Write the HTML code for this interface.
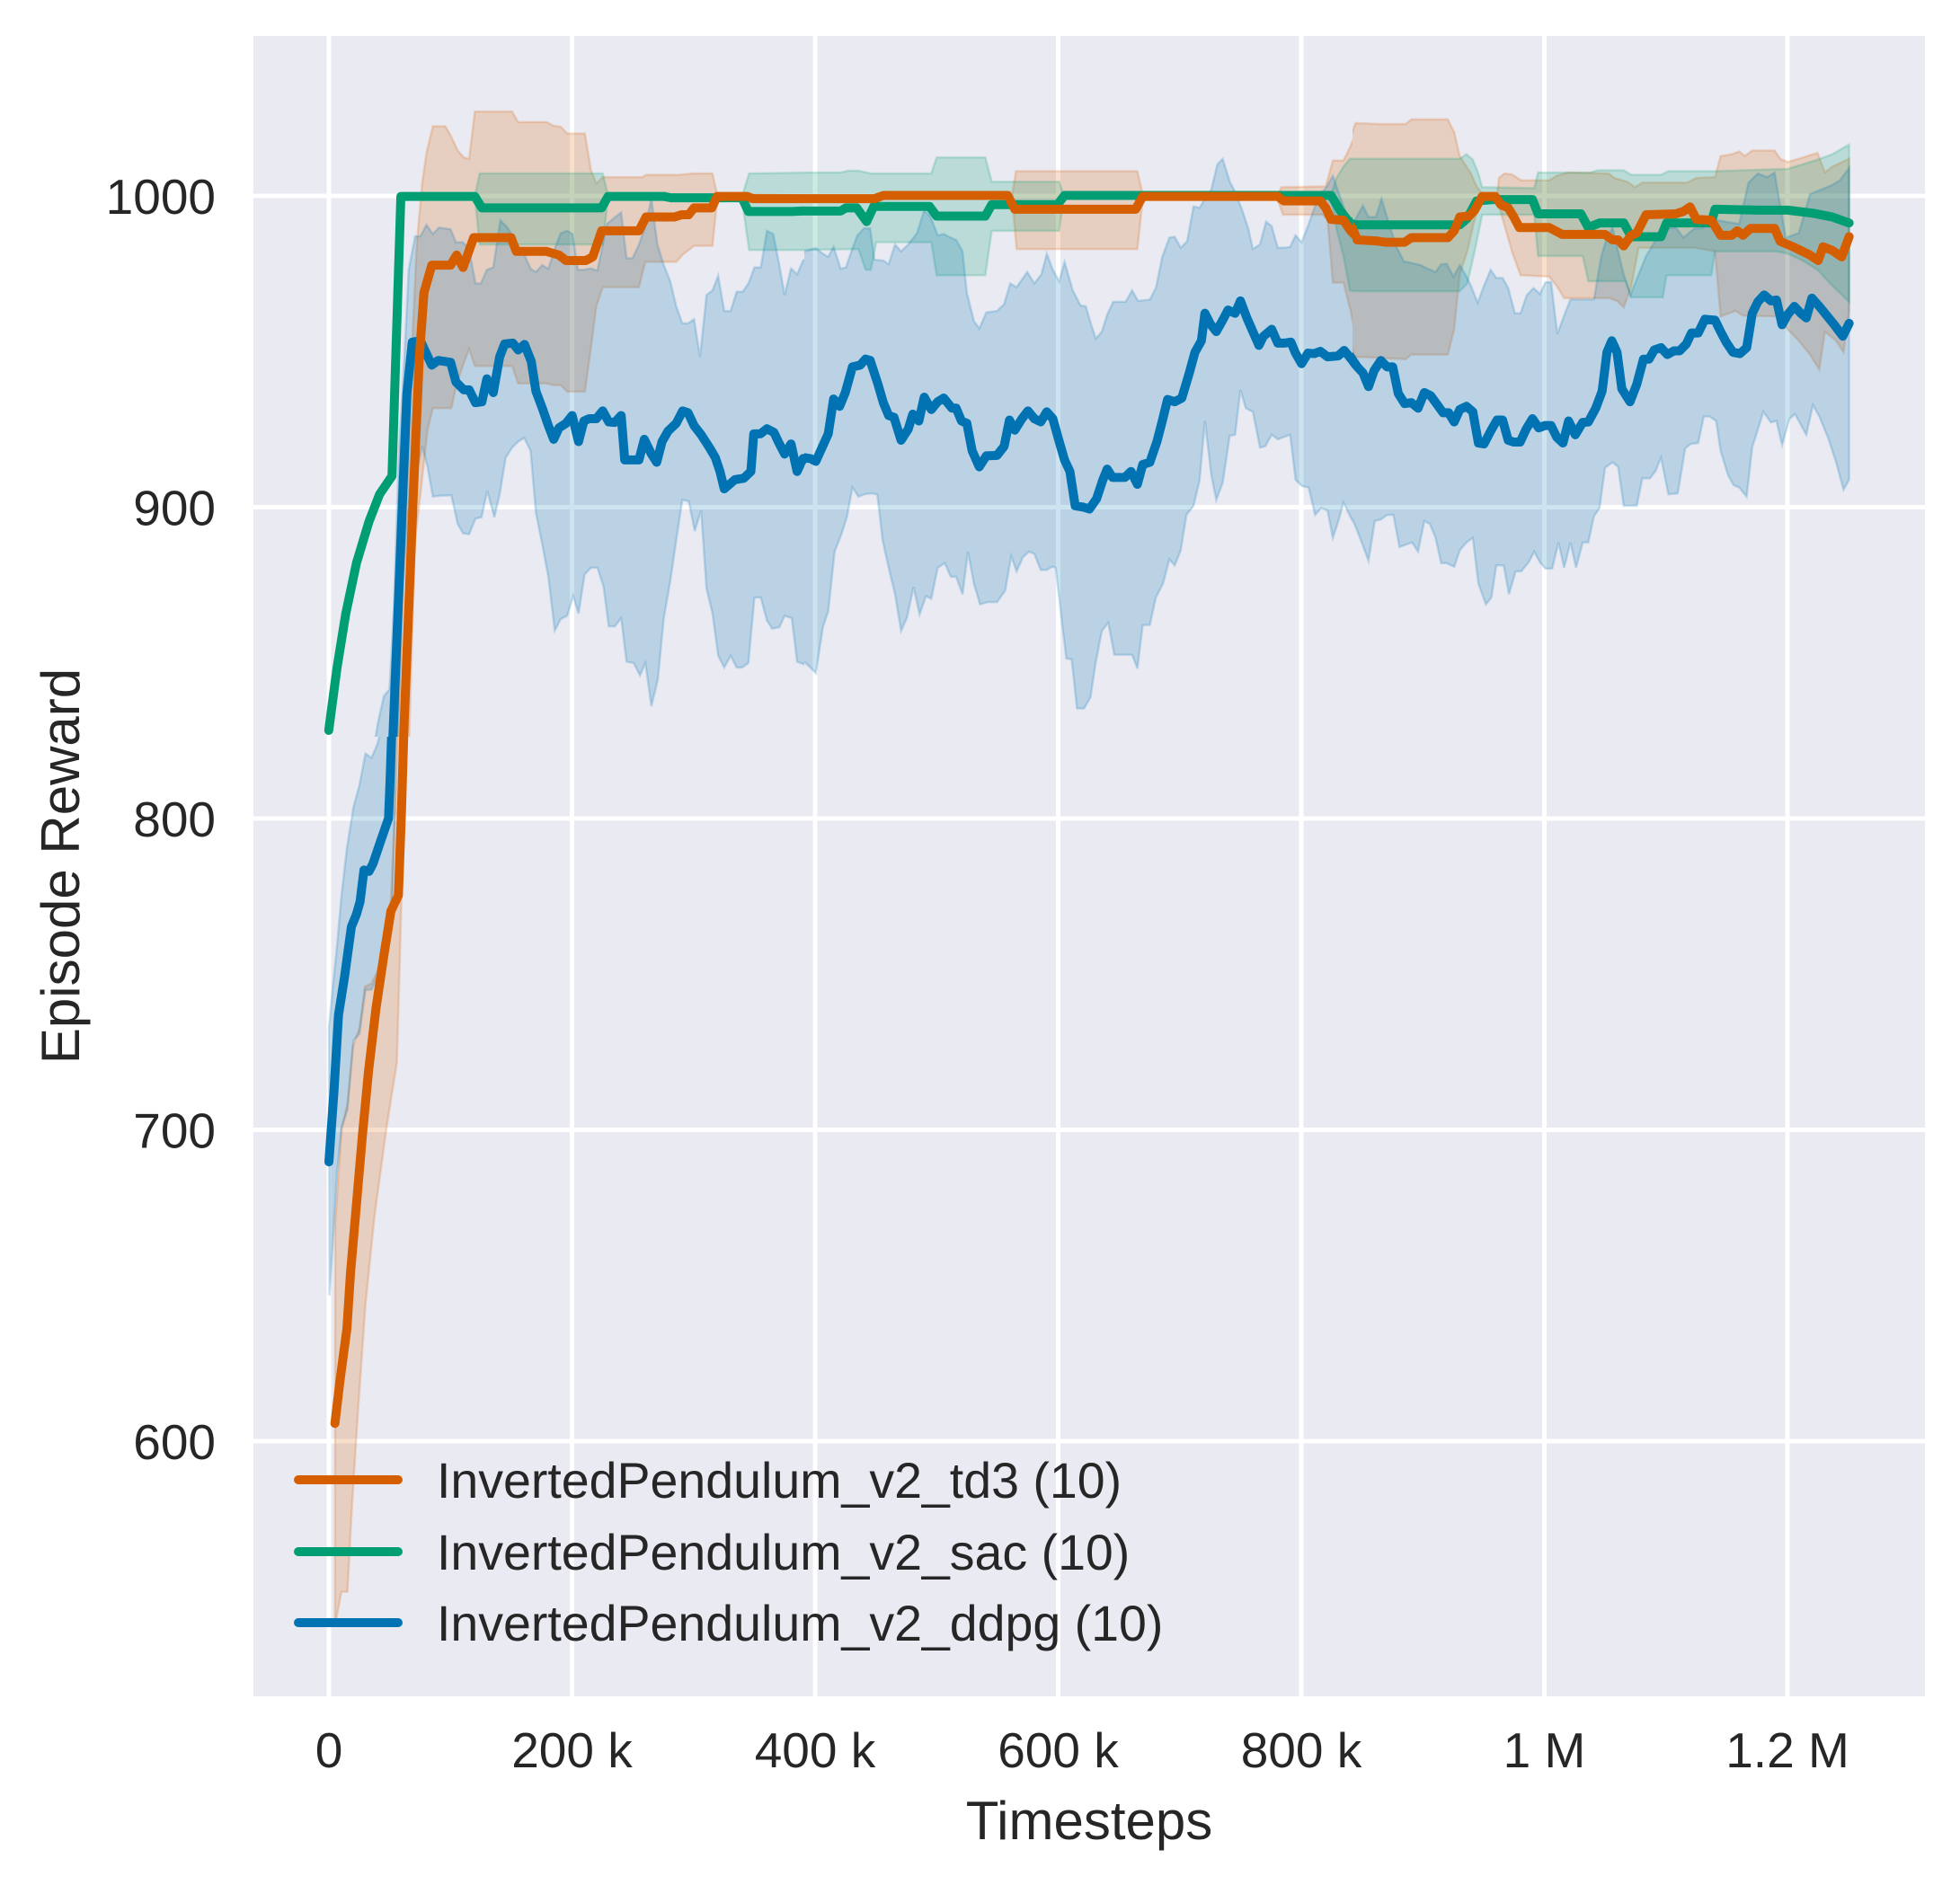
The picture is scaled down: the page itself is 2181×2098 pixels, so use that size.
<!DOCTYPE html>
<html><head><meta charset="utf-8"><style>
html,body{margin:0;padding:0;background:#fff}
svg{display:block}
text{font-family:"Liberation Sans",Arial,sans-serif;fill:#262626}
.bo{fill:#d55e00;fill-opacity:.2;stroke:#d55e00;stroke-opacity:.2;stroke-width:2.5;vector-effect:non-scaling-stroke}
.bg{fill:#029e73;fill-opacity:.2;stroke:#029e73;stroke-opacity:.2;stroke-width:2.5;vector-effect:non-scaling-stroke}
.bb{fill:#0173b2;fill-opacity:.2;stroke:#0173b2;stroke-opacity:.2;stroke-width:2.5;vector-effect:non-scaling-stroke}
.lo,.lg,.lb{fill:none;stroke-width:10;stroke-linejoin:round;stroke-linecap:round;vector-effect:non-scaling-stroke}
.lo{stroke:#d55e00}.lg{stroke:#029e73}.lb{stroke:#0173b2}
</style></head><body>
<svg xmlns="http://www.w3.org/2000/svg" width="2181" height="2098" viewBox="0 0 2181 2098">
<defs>
<clipPath id="cA" clipPathUnits="userSpaceOnUse"><rect x="282" y="40" width="613" height="780"/></clipPath>
<clipPath id="cB" clipPathUnits="userSpaceOnUse"><rect x="895" y="40" width="610" height="1848"/></clipPath>
<clipPath id="cC" clipPathUnits="userSpaceOnUse"><rect x="1505" y="40" width="637" height="1848"/></clipPath>
<clipPath id="cD" clipPathUnits="userSpaceOnUse"><rect x="282" y="820" width="398" height="1068"/></clipPath>
</defs>
<rect x="0" y="0" width="2181" height="2098" fill="#fff"/>
<rect x="282" y="40" width="1860" height="1848" fill="#eaeaf2"/>
<g stroke="#fff" stroke-width="5">
<line x1="366" y1="40" x2="366" y2="1888"/>
<line x1="636.5" y1="40" x2="636.5" y2="1888"/>
<line x1="907" y1="40" x2="907" y2="1888"/>
<line x1="1177.5" y1="40" x2="1177.5" y2="1888"/>
<line x1="1448" y1="40" x2="1448" y2="1888"/>
<line x1="1718.5" y1="40" x2="1718.5" y2="1888"/>
<line x1="1989" y1="40" x2="1989" y2="1888"/>
<line x1="282" y1="218" x2="2142" y2="218"/>
<line x1="282" y1="564.5" x2="2142" y2="564.5"/>
<line x1="282" y1="911" x2="2142" y2="911"/>
<line x1="282" y1="1257.5" x2="2142" y2="1257.5"/>
<line x1="282" y1="1604" x2="2142" y2="1604"/>
</g>

<!-- Region A -->
<g clip-path="url(#cA)"><g transform="translate(280,40) scale(0.39541,0.5102)">
<polygon class="bo" vector-effect="non-scaling-stroke" points="409,1568 430,1100 450,700 465,450 480,320 492,255 510,197 545,197 562,220 580,250 597,265 612,268 628,165 733,165 750,188 830,188 850,196 870,198 888,213 938,213 955,293 970,322 988,308 1100,308 1110,303 1200,303 1245,300 1297,300 1310,345 1580,348 1580,358 1310,358 1297,458 1245,458 1212,478 1195,493 1108,493 1090,548 988,548 970,590 955,680 938,776 888,776 870,762 850,762 830,758 750,758 733,720 628,720 612,683 595,718 577,760 562,812 510,812 495,860 475,1000 460,1100 442,1568"/>
<polygon class="bg" vector-effect="non-scaling-stroke" points="628,350 642,300 988,300 1003,348 1003,352 988,455 642,455 628,352"/>
<polygon class="bg" vector-effect="non-scaling-stroke" points="1380,350 1400,300 1580,298 1580,467 1400,467 1380,358"/>
<polygon class="bb" vector-effect="non-scaling-stroke" points="340,1568 355,1500 372,1440 388,1425 400,1250 415,900 430,700 442,510 460,437 475,437 492,412 510,432 527,418 560,422 575,450 595,450 612,465 630,540 645,540 662,510 680,505 700,402 720,418 737,440 752,475 768,478 785,508 800,515 818,500 835,508 855,460 870,430 888,425 903,432 918,510 937,510 955,507 973,512 1000,410 1020,397 1040,385 1055,485 1072,485 1090,455 1108,415 1125,355 1142,455 1160,500 1178,535 1195,590 1212,627 1228,627 1245,618 1262,700 1280,565 1297,555 1313,523 1330,600 1348,600 1365,558 1382,558 1398,540 1415,505 1433,505 1450,425 1468,432 1485,500 1500,565 1518,507 1535,520 1552,490 1580,478 1580,1378 1552,1370 1535,1365 1520,1270 1500,1265 1485,1290 1465,1293 1450,1275 1433,1225 1415,1225 1398,1368 1380,1378 1365,1378 1348,1352 1330,1378 1313,1352 1297,1260 1280,1205 1265,1035 1247,1080 1230,1015 1212,1012 1195,1100 1178,1190 1160,1270 1143,1405 1125,1462 1108,1368 1093,1395 1075,1368 1055,1365 1040,1270 1022,1288 1005,1288 990,1200 973,1160 955,1160 937,1175 920,1260 905,1222 888,1265 870,1272 853,1297 835,1180 818,1110 800,1040 785,905 767,877 750,885 733,898 715,920 698,1000 683,1050 663,992 647,1050 630,1053 612,1087 595,1085 580,1065 562,1002 530,1003 510,1005 495,940 480,895 465,950 445,1000 425,1200 410,1568"/>
<polyline class="lb" vector-effect="non-scaling-stroke" points="395,1580 420,1100 437,780 452,668 475,665 490,690 507,718 525,708 560,712 575,755 597,772 612,772 630,800 648,798 662,748 680,778 698,700 712,672 735,670 750,685 768,673 787,710 800,775 818,812 835,850 850,880 865,855 885,845 902,828 920,885 935,840 950,835 970,835 988,818 1005,842 1022,843 1040,828 1050,925 1090,925 1105,880 1125,912 1140,930 1155,885 1172,862 1195,845 1213,818 1228,822 1245,850 1265,870 1290,900 1305,920 1318,950 1330,988 1360,968 1385,965 1405,950 1413,868 1432,868 1450,857 1470,865 1482,885 1500,912 1518,890 1535,950 1552,922 1580,920"/>
<polyline class="lg" vector-effect="non-scaling-stroke" points="217,1515 240,1380 265,1260 295,1150 330,1060 360,1000 395,960 420,350 628,350 648,375 985,375 1003,350 1160,350 1180,353 1380,353 1398,383 1520,383 1580,381"/>
<polyline class="lo" vector-effect="non-scaling-stroke" points="425,1580 455,1000 472,700 485,560 507,500 560,500 577,478 595,505 625,440 730,440 745,470 830,470 865,478 885,490 940,490 960,482 985,425 1090,425 1110,395 1190,395 1210,390 1230,390 1245,375 1295,375 1310,350 1395,350 1410,355 1580,355"/>
</g></g>

<!-- Region D (early rise) -->
<g clip-path="url(#cD)"><g transform="translate(280,800) scale(0.33333,0.70151)">
<polygon class="bo" vector-effect="non-scaling-stroke" points="278,1430 279,800 300,650 320,610 338,520 360,490 378,425 400,420 420,400 448,360 465,285 480,120 488,-10 520,-10 505,200 495,380 485,545 450,650 410,790 380,930 355,1100 335,1250 320,1385 300,1385 282,1430"/>
<polygon class="bb" vector-effect="non-scaling-stroke" points="258,490 270,430 285,360 300,280 318,205 340,140 360,105 380,55 400,62 420,40 440,0 440,-10 483,-10 478,150 470,290 455,330 430,400 400,430 380,430 360,500 340,510 320,620 300,650 285,720 270,840 260,915"/>
<polyline class="lb" vector-effect="non-scaling-stroke" points="258,703 275,590 290,470 310,410 333,330 350,310 362,290 375,240 392,242 405,230 430,195 457,158 462,100 470,-10"/>
<polyline class="lo" vector-effect="non-scaling-stroke" points="278,1118 295,1050 318,968 330,880 350,770 370,660 390,560 415,460 440,380 465,305 490,280 500,150 510,-10"/>
</g></g>

<!-- Region B -->
<g clip-path="url(#cB)"><g transform="translate(890,40) scale(0.39541,0.5102)">
<polygon class="bo" vector-effect="non-scaling-stroke" points="598,345 608,295 950,295 965,345 965,358 950,465 610,465 598,360"/>
<polygon class="bo" vector-effect="non-scaling-stroke" points="1345,348 1355,330 1480,328 1500,272 1530,272 1550,240 1575,190 1575,700 1550,600 1530,538 1500,538 1485,400 1470,390 1360,390 1345,358"/>
<polygon class="bg" vector-effect="non-scaling-stroke" points="0,298 115,298 135,294 165,294 200,300 370,300 385,265 522,265 540,318 730,318 742,346 742,352 730,425 540,425 522,522 385,522 370,450 215,450 200,510 185,510 165,465 -5,467 -5,298"/>
<polygon class="bg" vector-effect="non-scaling-stroke" points="1495,346 1510,310 1530,285 1548,268 1575,265 1575,560 1548,555 1530,480 1510,420 1495,352"/>
<polygon class="bb" vector-effect="non-scaling-stroke" points="-5,480 12,470 45,463 65,475 80,482 95,460 115,508 130,505 145,470 162,435 180,420 198,420 210,488 235,490 250,498 268,455 285,470 305,455 330,430 350,380 368,395 388,435 405,432 425,440 440,445 458,470 470,560 490,622 505,638 525,603 555,600 575,585 592,540 610,548 640,515 660,540 680,520 695,475 712,510 730,535 745,493 768,555 790,588 805,590 820,630 833,660 850,645 865,608 882,580 917,580 935,555 952,578 985,575 1002,550 1020,482 1040,440 1055,438 1072,462 1090,448 1108,372 1125,375 1140,355 1158,335 1175,280 1190,268 1210,318 1225,340 1245,380 1262,420 1275,465 1295,455 1312,405 1328,415 1345,462 1365,462 1380,460 1395,435 1412,450 1430,415 1448,375 1465,345 1482,330 1500,305 1520,350 1548,410 1575,450 1575,1085 1550,1050 1530,1018 1515,1060 1500,1095 1485,1035 1467,1030 1450,1045 1432,985 1413,982 1395,968 1380,870 1345,880 1328,870 1310,895 1295,898 1275,820 1255,812 1240,772 1225,870 1210,872 1190,975 1172,1012 1158,958 1140,840 1125,970 1108,1025 1088,1045 1072,1122 1055,1155 1040,1142 1022,1195 1002,1225 985,1285 965,1285 950,1380 935,1350 885,1350 868,1280 850,1298 832,1370 818,1443 800,1467 780,1467 765,1360 750,1358 735,1262 720,1160 710,1158 695,1165 678,1165 660,1130 645,1125 628,1137 610,1168 595,1135 578,1210 555,1235 530,1235 507,1240 490,1195 473,1125 458,1218 440,1180 425,1180 408,1150 388,1160 370,1228 355,1222 337,1262 320,1202 302,1268 285,1298 268,1218 250,1160 233,1100 218,1000 200,998 182,1000 165,1005 148,985 133,1048 118,1085 98,1125 80,1255 65,1290 45,1390 30,1378 12,1365 -5,1372"/>
<polyline class="lb" vector-effect="non-scaling-stroke" points="-10,948 12,920 30,922 45,928 80,868 95,792 112,808 128,778 148,722 170,718 185,705 198,708 220,760 235,800 250,828 265,832 285,882 305,858 318,825 335,840 350,788 370,815 388,798 405,790 428,812 440,812 455,840 470,845 485,905 505,940 525,916 555,915 575,895 590,838 605,860 625,835 642,818 660,835 678,842 695,820 712,835 730,885 745,925 760,950 775,1025 798,1028 815,1032 835,1010 852,970 865,945 880,963 915,963 932,950 950,978 965,935 985,930 1005,885 1020,840 1035,793 1055,798 1075,790 1095,738 1112,690 1130,665 1140,605 1155,628 1172,645 1190,620 1205,598 1225,605 1240,578 1258,615 1275,645 1292,675 1305,655 1328,640 1345,670 1365,670 1382,668 1395,692 1412,715 1430,692 1448,693 1465,688 1485,700 1515,698 1532,686 1552,705 1580,735"/>
<polyline class="lg" vector-effect="non-scaling-stroke" points="-10,382 115,382 130,375 160,375 188,405 208,372 365,372 385,393 522,393 540,368 725,368 745,348 1495,348 1520,380 1545,405 1580,410"/>
<polyline class="lo" vector-effect="non-scaling-stroke" points="-10,355 210,355 235,348 585,348 605,378 945,378 965,350 1345,350 1362,360 1465,360 1480,375 1495,400 1530,402 1550,425 1580,448"/>
</g></g>

<!-- Region C -->
<g clip-path="url(#cC)"><g transform="translate(1500,40) scale(0.41459,0.5102)">
<polygon class="bo" vector-effect="non-scaling-stroke" points="-5,245 20,190 80,192 155,192 170,182 268,182 285,210 300,262 330,300 345,328 360,343 400,345 405,310 420,300 440,302 465,315 540,315 560,305 590,298 700,300 715,310 750,318 770,330 790,320 910,320 935,310 985,308 1000,262 1030,258 1050,252 1065,262 1085,250 1145,250 1160,268 1180,275 1210,268 1260,255 1280,298 1300,285 1345,268 1345,600 1330,690 1310,665 1280,645 1265,728 1240,695 1210,665 1180,640 1150,612 1060,610 1040,600 1000,612 985,470 930,462 780,462 760,548 740,592 722,578 700,572 580,572 560,545 540,525 463,522 440,470 410,385 400,355 360,355 350,380 340,400 320,470 300,520 285,640 268,695 170,695 155,705 20,700 -5,650"/>
<polygon class="bg" vector-effect="non-scaling-stroke" points="-5,268 300,268 318,258 335,270 350,300 360,330 500,332 510,298 650,298 670,293 740,293 760,303 840,303 860,295 990,295 1100,292 1180,290 1260,270 1300,258 1345,237 1345,580 1300,545 1260,510 1220,490 1180,475 1150,470 985,470 975,522 855,522 845,570 760,570 745,535 645,535 630,480 510,480 500,390 360,390 340,470 320,540 300,557 -5,557"/>
<polygon class="bb" vector-effect="non-scaling-stroke" points="-5,440 20,400 40,370 55,395 75,395 90,355 110,410 130,460 150,492 170,495 195,500 215,508 235,515 250,498 265,497 283,525 300,500 315,520 330,545 348,582 365,545 383,510 398,528 415,528 430,550 448,605 463,605 480,565 498,550 515,563 530,537 545,537 562,650 580,610 597,575 660,575 680,480 695,440 710,418 725,470 740,520 758,565 775,530 800,480 830,440 850,420 880,418 900,440 930,420 950,420 975,400 1050,410 1075,320 1100,300 1125,308 1145,298 1160,370 1175,440 1210,430 1240,345 1270,335 1300,325 1320,315 1345,288 1345,968 1330,990 1310,930 1290,880 1265,830 1248,805 1230,870 1200,825 1185,835 1165,892 1150,840 1135,843 1115,820 1085,897 1070,1005 1050,985 1035,980 1020,958 1000,905 988,840 970,830 955,830 940,888 920,890 905,900 885,998 860,1000 840,920 825,950 810,965 790,965 775,1025 740,1025 725,940 710,930 690,942 675,1030 660,1048 645,1105 630,1105 612,1160 597,1105 580,1160 565,1105 548,1162 530,1162 515,1148 500,1125 485,1148 465,1168 450,1168 432,1218 418,1155 398,1155 385,1225 370,1240 350,1195 335,1095 318,1105 300,1122 285,1158 265,1150 250,1150 235,1095 220,1065 205,1058 188,1125 172,1105 155,1110 138,1115 122,1045 105,1045 88,1055 72,1058 55,1145 40,1112 25,1080 12,1055 -5,1035"/>
<polyline class="lb" vector-effect="non-scaling-stroke" points="-10,680 25,722 40,735 55,765 70,730 88,708 105,722 120,722 135,780 152,802 170,800 188,812 205,778 222,785 240,805 255,822 270,822 285,842 300,815 318,808 335,820 350,888 365,890 383,862 400,838 415,838 430,882 445,886 462,886 478,858 495,835 512,855 528,850 545,850 560,875 577,888 592,840 610,870 630,843 645,842 665,812 682,775 695,690 708,665 722,690 735,770 757,798 775,760 793,705 808,705 822,685 840,680 857,695 875,687 890,687 908,672 922,648 940,648 958,618 985,620 1000,645 1015,668 1033,690 1052,693 1070,680 1085,605 1100,580 1117,565 1135,578 1150,576 1165,630 1180,608 1198,590 1215,605 1230,615 1245,572 1265,590 1285,610 1305,630 1328,655 1345,627"/>
<polyline class="lg" vector-effect="non-scaling-stroke" points="-10,405 20,412 300,412 320,398 345,360 390,357 495,357 510,388 625,388 645,418 675,408 740,408 760,438 840,438 855,408 975,408 985,378 1100,380 1180,380 1250,387 1300,395 1345,408"/>
<polyline class="lo" vector-effect="non-scaling-stroke" points="-10,395 12,420 25,445 75,447 100,450 152,450 170,440 268,440 285,425 300,395 325,393 340,380 360,350 395,350 410,368 430,375 445,395 460,418 540,418 575,433 690,433 710,445 725,445 740,458 760,435 775,430 800,390 880,388 900,383 918,373 935,400 975,402 1000,435 1030,435 1045,425 1060,435 1080,420 1145,420 1160,448 1200,462 1240,478 1262,490 1275,460 1300,468 1325,482 1335,460 1345,438"/>
</g></g>

<!-- Legend -->
<g stroke-width="10" stroke-linecap="round">
<line x1="332" y1="1647" x2="443" y2="1647" stroke="#d55e00"/>
<line x1="332" y1="1727" x2="443" y2="1727" stroke="#029e73"/>
<line x1="332" y1="1806" x2="443" y2="1806" stroke="#0173b2"/>
</g>
<g font-size="55.5">
<text x="486" y="1667">InvertedPendulum_v2_td3 (10)</text>
<text x="486" y="1747">InvertedPendulum_v2_sac (10)</text>
<text x="486" y="1826">InvertedPendulum_v2_ddpg (10)</text>
</g>

<!-- Y tick labels -->
<g font-size="55" text-anchor="end">
<text x="240" y="238">1000</text>
<text x="240" y="584.5">900</text>
<text x="240" y="931">800</text>
<text x="240" y="1277.5">700</text>
<text x="240" y="1624">600</text>
</g>
<!-- X tick labels -->
<g font-size="55" text-anchor="middle">
<text x="366" y="1967">0</text>
<text x="636.5" y="1967">200 k</text>
<text x="907" y="1967">400 k</text>
<text x="1177.5" y="1967">600 k</text>
<text x="1448" y="1967">800 k</text>
<text x="1718.5" y="1967">1 M</text>
<text x="1989" y="1967">1.2 M</text>
</g>
<text x="1212" y="2047" font-size="60" text-anchor="middle">Timesteps</text>
<text transform="translate(88,964) rotate(-90)" font-size="60" text-anchor="middle">Episode Reward</text>
</svg>
</body></html>
